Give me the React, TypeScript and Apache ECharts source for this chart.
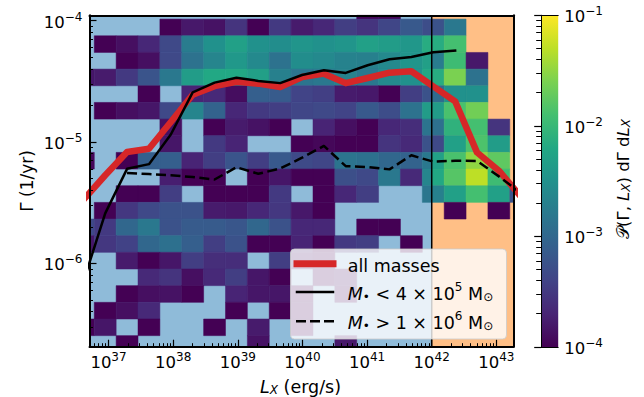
import React, { useEffect, useRef } from "react";
import * as echarts from "echarts";

const FONT = "DejaVu Sans";
const N = null;

// axis ranges in log10 units
const X_RANGE = [36.706, 43.265];
const Y_RANGE = [-6.687, -3.957];
const CB_RANGE = [-4, -1];

const xMajorTicks = [37, 38, 39, 40, 41, 42, 43];
const yMajorTicks = [-6, -5, -4];
const cbMajorTicks = [-4, -3, -2, -1];

// log10 L_X bin edges (an extra edge at 1e42)
const lxBinEdges = [36.4417, 36.78, 37.1183, 37.4566, 37.7949, 38.1332, 38.4715, 38.8098, 39.1481, 39.4864,
  39.8247, 40.163, 40.5013, 40.8396, 41.1779, 41.5162, 41.8545, 42.0, 42.1928, 42.5311, 42.8694, 43.2077, 43.546];
// log10 Gamma bin edges, top to bottom
const gammaBinEdges = [-3.8513, -3.9885, -4.1257, -4.263, -4.4002, -4.5374, -4.6747, -4.8119, -4.9491, -5.0864,
  -5.2236, -5.3608, -5.4981, -5.6353, -5.7725, -5.9097, -6.047, -6.1842, -6.3214, -6.4587, -6.5959, -6.7331];

// log10 P(Gamma, L_X) per cell (rows top -> bottom, columns left -> right), null = empty
const heatLog10: (number | null)[][] = [
  [N, N, N, N, N, N, N, N, N, N, N, N, N, -3.95, -3.95, N, N, N, N, N, N, N],
  [N, N, N, N, -4, -3.8, -3.85, -3.55, -4, -3.5, -3.78, -3.67, -3.46, -3.55, -3.38, -3.17, -3.3, -3.25, -2.8, N, N, N],
  [N, -4, -3.88, -3.67, -3.34, -2.75, -2.5, -2.3, -2.5, -2.55, -2.45, -2.5, -2.45, -2.3, -2.35, -2.42, -2.15, -2.15, -1.9, N, N, N],
  [N, N, -4, -3.88, -3.34, -2.87, -2.65, -2.41, -2.6, -2.87, -2.55, -2.6, -2.68, -2.7, -2.6, -2.45, -2.32, -2.75, -1.95, -3.8, N, N],
  [-3.82, -3.78, -3.5, -3.22, -2.8, -2.35, -2.2, -2.2, -2.32, -2.7, -2.85, -2.8, -2.68, -2.8, -2.6, -2.5, -2.2, -2.15, -1.6, -2.87, N, N],
  [N, N, N, -4, N, -3.7, -3.65, -3.9, -3.1, -3.15, -3.4, -3.45, -3.78, -3.8, -4, -3.46, -3.25, -2.95, -2.5, -2.5, N, N],
  [N, -4, -3.88, -3.82, -3.34, -2.65, -3.05, -3.67, -3.5, -3.46, -3.38, -3.34, -3.4, -3.17, -3.3, -2.87, -2.35, -2.35, -1.87, -1.65, N, N],
  [N, N, N, N, -3.88, N, -4, -3.78, -3.85, -4, N, -3.7, -3.88, -4, -3.67, -3.62, -2.85, -2.9, -2.08, -1.9, -3.55, N],
  [N, N, N, N, -3.82, N, -3.5, -3.7, N, N, -4, -3.95, -4, -4, -3.55, -3.65, -3.25, -3.34, -2.3, -1.85, -2.35, N],
  [-3.95, N, -4, -3.1, -3.1, -3.7, -3.46, -3.22, -3.46, -3.17, -3.33, -3.38, -2.85, -2.89, -3.0, -3.05, -2.8, -2.3, -1.87, -1.5, -1.75, N],
  [N, N, N, N, -3.75, -4, -4, N, -4, -3.82, -4, -4, -3.28, -3.34, -2.8, -3.65, -2.65, -2.2, -1.8, -1.3, -1.95, N],
  [N, N, -4, -4, -3.46, N, -4, -4, -4, -3.5, N, -4, -3.67, -3.46, N, N, -2.82, -2.7, -2.3, -1.9, -2.3, -3.25],
  [N, -4, -3.52, -3.34, -3.25, -3.25, -3.78, -3.8, -3.67, -3.52, -3.8, -4, N, N, N, N, N, N, -4, N, -4, N],
  [-3.35, -3.5, -3.0, -2.8, -3.25, -3.15, -3.15, -3.2, -3.0, -3.25, -3.67, -3.67, N, -4, -4, N, N, N, N, N, N, N],
  [-3.82, -3.52, -3.42, -3.0, -2.89, -3.1, -3.46, -3.25, -4, -4, -3.7, -4, -3.5, -3.46, N, -4, N, N, N, N, N, N],
  [N, N, -3.78, -4, -3.82, -3.46, -3.61, -3.62, N, -3.46, -3.8, -3.9, N, N, N, N, N, N, N, N, N, N],
  [N, N, N, -3.65, -3.55, -3.88, -3.65, -3.46, -3.82, -4, N, -3.9, -3.8, N, N, N, N, N, N, N, N, N],
  [N, N, -4, -3.88, -3.85, -4, N, -3.7, -3.82, -3.82, -3.9, N, -3.85, N, N, N, N, N, N, N, N, N],
  [N, -4, -3.88, -3.65, N, N, N, -4, N, -4, -3.9, N, N, N, N, N, N, N, N, N, N, N],
  [-4, -3.82, N, -4, N, N, -4, N, -3.78, N, -3.9, N, N, N, N, N, N, N, N, N, N, N],
  [N, N, -4, N, N, N, N, N, -3.85, N, N, N, -3.8, N, N, N, N, N, N, N, N, N],
];

// log10 L_X bin centres used by the curves
const lxCentres = [36.611, 36.949, 37.287, 37.626, 37.964, 38.302, 38.641, 38.979, 39.317, 39.656, 39.994,
  40.332, 40.67, 41.009, 41.347, 41.685, 42.024, 42.362, 42.7, 43.039, 43.377];
// Gamma (1/yr)
const gammaAllMasses = [3.33e-6, 5.31e-6, 8.26e-6, 8.79e-6, 1.46e-5, 2.45e-5, 2.88e-5, 3.13e-5, 3.02e-5, 2.83e-5,
  3.42e-5, 3.65e-5, 3.05e-5, 3.36e-5, 3.72e-5, 3.82e-5, 2.87e-5, 2.16e-5, 8.2e-6, 5.79e-6, 3.56e-6];
const lxLowMass = lxCentres.slice(0, 18);
const gammaLowMass = [7.06e-7, 2.58e-6, 6.0e-6, 6.56e-6, 1.15e-5, 2.56e-5, 3.08e-5, 3.38e-5, 3.18e-5, 3.05e-5,
  3.56e-5, 3.89e-5, 3.7e-5, 4.28e-5, 4.79e-5, 5.01e-5, 5.47e-5, 5.64e-5];
const lxHighMass = lxCentres.slice(2);
const gammaHighMass = [5.55e-6, 5.43e-6, 5.31e-6, 5.14e-6, 4.9e-6, 6.19e-6, 5.46e-6, 6.04e-6, 7.41e-6, 9.27e-6,
  6.31e-6, 6.21e-6, 5.94e-6, 7.76e-6, 6.87e-6, 7.0e-6, 6.97e-6, 5.2e-6, 3.8e-6];
const lxSplit = 42;

const VIRIDIS = ["#440154", "#482475", "#414487", "#355f8d", "#2a788e", "#21918c", "#22a884", "#44bf70", "#7ad151", "#bddf26", "#fde725"];

function hexToRgb(h: string) {
  return [parseInt(h.slice(1, 3), 16), parseInt(h.slice(3, 5), 16), parseInt(h.slice(5, 7), 16)];
}
function viridis(t: number) {
  const tt = Math.max(0, Math.min(1, t)) * (VIRIDIS.length - 1);
  const i = Math.min(VIRIDIS.length - 2, Math.floor(tt));
  const f = tt - i;
  const a = hexToRgb(VIRIDIS[i]);
  const b = hexToRgb(VIRIDIS[i + 1]);
  const c = a.map((v, k) => Math.round(v + (b[k] - v) * f));
  return `rgb(${c[0]},${c[1]},${c[2]})`;
}
function minorTicks(lo: number, hi: number, decades: number[]) {
  const out: number[] = [];
  decades.forEach((d) => {
    for (let k = 2; k <= 9; k++) {
      const v = d + Math.log10(k);
      if (v > lo + 1e-6 && v < hi - 1e-6) out.push(v);
    }
  });
  return out;
}

const richTick = {
  b: { fontSize: 16.5, lineHeight: 20, verticalAlign: "bottom", fontFamily: FONT, color: "#000" },
  s: { fontSize: 12, lineHeight: 12, verticalAlign: "top", fontFamily: FONT, color: "#000" },
};
const fmtPow = (v: number) => {
  const e = Math.round(v);
  return `{b|10}{s|${e < 0 ? "\u2212" + -e : e}}`;
};

export default function App() {
  const ref = useRef<HTMLDivElement>(null);
  useEffect(() => {
    if (!ref.current) return;
    const chart = echarts.init(ref.current, undefined, { renderer: "svg" });

    const cells: number[][] = [];
    heatLog10.forEach((row, r) =>
      row.forEach((v, c) => {
        if (v === null) return;
        const x0 = Math.max(lxBinEdges[c], X_RANGE[0]);
        const x1 = Math.min(lxBinEdges[c + 1], X_RANGE[1]);
        const yt = Math.min(gammaBinEdges[r], Y_RANGE[1]);
        const yb = Math.max(gammaBinEdges[r + 1], Y_RANGE[0]);
        if (x1 <= x0 || yt <= yb) return;
        cells.push([x0, x1, yt, yb, v]);
      })
    );
    const spans = [
      [X_RANGE[0], lxSplit, Y_RANGE[1], Y_RANGE[0], 0],
      [lxSplit, X_RANGE[1], Y_RANGE[1], Y_RANGE[0], 1],
    ];
    const spanColors = ["#8fbbd9", "#ffbf86"];

    const rectItem = (api: any, fill: string, stroke?: boolean) => {
      const p0 = api.coord([api.value(0), api.value(2)]);
      const p1 = api.coord([api.value(1), api.value(3)]);
      return {
        type: "rect",
        shape: { x: p0[0], y: p0[1], width: p1[0] - p0[0], height: p1[1] - p0[1] },
        style: stroke ? { fill, stroke: fill, lineWidth: 0.5 } : { fill },
      };
    };

    const xMinor = minorTicks(X_RANGE[0], X_RANGE[1], [36, 37, 38, 39, 40, 41, 42, 43]);
    const yMinor = minorTicks(Y_RANGE[0], Y_RANGE[1], [-7, -6, -5, -4]);
    const cbMinor = minorTicks(CB_RANGE[0], CB_RANGE[1], [-4, -3, -2]);

    const lineOnly = { show: true, lineStyle: { color: "#000", width: 2 } };
    const hidden = { show: false };

    const cbStops = VIRIDIS.map((c, i) => ({ offset: i / (VIRIDIS.length - 1), color: c }));

    const sub = { fontSize: 12, lineHeight: 12, verticalAlign: "bottom", fontFamily: FONT, fill: "#000", color: "#000" };
    const subI = { ...sub, fontStyle: "italic" };
    const sup = { fontSize: 12, lineHeight: 12, verticalAlign: "top", fontFamily: FONT, fill: "#000", color: "#000" };
    const base = (fs: number, lh: number) => ({ fontSize: fs, lineHeight: lh, verticalAlign: "bottom", fontFamily: FONT, fill: "#000", color: "#000" });
    const ital = (fs: number, lh: number) => ({ ...base(fs, lh), fontStyle: "italic" });

    const option: any = {
      animation: false,
      backgroundColor: "#fff",
      textStyle: { fontFamily: FONT },
      grid: [
        { left: 89.5, top: 15.3, width: 424, height: 331.4 },
        { left: 541.2, top: 15.3, width: 17, height: 331.7 },
      ],
      xAxis: [
        {
          gridIndex: 0, type: "value", min: X_RANGE[0], max: X_RANGE[1], position: "bottom", z: 10,
          axisLine: lineOnly,
          axisTick: { show: true, inside: true, length: 7, customValues: xMajorTicks, lineStyle: { color: "#000", width: 1.2 } },
          axisLabel: { show: true, customValues: xMajorTicks, formatter: fmtPow, rich: richTick, margin: 4 },
          splitLine: hidden,
        },
        {
          gridIndex: 0, type: "value", min: X_RANGE[0], max: X_RANGE[1], position: "bottom", z: 10,
          axisLine: hidden,
          axisTick: { show: true, inside: true, length: 3.5, customValues: xMinor, lineStyle: { color: "#000", width: 1 } },
          axisLabel: hidden, splitLine: hidden,
        },
        {
          gridIndex: 0, type: "value", min: X_RANGE[0], max: X_RANGE[1], position: "top", z: 10,
          axisLine: lineOnly, axisTick: hidden, axisLabel: hidden, splitLine: hidden,
        },
        {
          gridIndex: 1, type: "value", min: 0, max: 1, position: "bottom", z: 10,
          axisLine: { show: true, lineStyle: { color: "#000", width: 1 } }, axisTick: hidden, axisLabel: hidden, splitLine: hidden,
        },
        {
          gridIndex: 1, type: "value", min: 0, max: 1, position: "top", z: 10,
          axisLine: { show: true, lineStyle: { color: "#000", width: 1 } }, axisTick: hidden, axisLabel: hidden, splitLine: hidden,
        },
      ],
      yAxis: [
        {
          gridIndex: 0, type: "value", min: Y_RANGE[0], max: Y_RANGE[1], position: "left", z: 10,
          axisLine: lineOnly,
          axisTick: { show: true, inside: true, length: 7, customValues: yMajorTicks, lineStyle: { color: "#000", width: 1.2 } },
          axisLabel: { show: true, customValues: yMajorTicks, formatter: fmtPow, rich: richTick, margin: 7 },
          splitLine: hidden,
        },
        {
          gridIndex: 0, type: "value", min: Y_RANGE[0], max: Y_RANGE[1], position: "left", z: 10,
          axisLine: hidden,
          axisTick: { show: true, inside: true, length: 3.5, customValues: yMinor, lineStyle: { color: "#000", width: 1 } },
          axisLabel: hidden, splitLine: hidden,
        },
        {
          gridIndex: 0, type: "value", min: Y_RANGE[0], max: Y_RANGE[1], position: "right", z: 10,
          axisLine: lineOnly, axisTick: hidden, axisLabel: hidden, splitLine: hidden,
        },
        {
          gridIndex: 1, type: "value", min: CB_RANGE[0], max: CB_RANGE[1], position: "right", z: 10,
          axisLine: { show: true, lineStyle: { color: "#000", width: 1 } },
          axisTick: { show: true, inside: true, length: 7, customValues: cbMajorTicks, lineStyle: { color: "#000", width: 1.2 } },
          axisLabel: { show: true, customValues: cbMajorTicks, formatter: fmtPow, rich: richTick, margin: 6 },
          splitLine: hidden,
        },
        {
          gridIndex: 1, type: "value", min: CB_RANGE[0], max: CB_RANGE[1], position: "right", z: 10,
          axisLine: hidden,
          axisTick: { show: true, inside: true, length: 5, customValues: cbMinor, lineStyle: { color: "#000", width: 1 } },
          axisLabel: hidden, splitLine: hidden,
        },
        {
          gridIndex: 1, type: "value", min: CB_RANGE[0], max: CB_RANGE[1], position: "left", z: 10,
          axisLine: { show: true, lineStyle: { color: "#000", width: 1 } }, axisTick: hidden, axisLabel: hidden, splitLine: hidden,
        },
      ],
      series: [
        {
          type: "custom", xAxisIndex: 0, yAxisIndex: 0, z: 1, silent: true,
          encode: { x: [0, 1], y: [2, 3] },
          data: spans,
          renderItem: (_p: any, api: any) => rectItem(api, spanColors[api.value(4)]),
        },
        {
          type: "custom", xAxisIndex: 0, yAxisIndex: 0, z: 1, silent: true,
          encode: { x: [0, 1], y: [2, 3] },
          data: cells,
          renderItem: (_p: any, api: any) =>
            rectItem(api, viridis((api.value(4) - CB_RANGE[0]) / (CB_RANGE[1] - CB_RANGE[0])), true),
        },
        {
          type: "line", xAxisIndex: 0, yAxisIndex: 0, z: 3, silent: true, symbol: "none",
          data: lxCentres.map((x, i) => [x, Math.log10(gammaAllMasses[i])]),
          lineStyle: { color: "#d62728", width: 6.5, join: "round", cap: "square" },
        },
        {
          type: "line", xAxisIndex: 0, yAxisIndex: 0, z: 4, silent: true, symbol: "none",
          data: lxLowMass.map((x, i) => [x, Math.log10(gammaLowMass[i])]),
          lineStyle: { color: "#000", width: 2.5, join: "round", cap: "square" },
        },
        {
          type: "line", xAxisIndex: 0, yAxisIndex: 0, z: 4, silent: true, symbol: "none",
          data: lxHighMass.map((x, i) => [x, Math.log10(gammaHighMass[i])]),
          lineStyle: { color: "#000", width: 2.5, type: [10, 4.5], join: "round" },
        },
        {
          type: "line", xAxisIndex: 0, yAxisIndex: 0, z: 4, silent: true, symbol: "none",
          data: [[lxSplit, Y_RANGE[0]], [lxSplit, Y_RANGE[1]]],
          lineStyle: { color: "#000", width: 1.5 },
        },
        {
          type: "custom", xAxisIndex: 3, yAxisIndex: 3, z: 1, silent: true,
          encode: { x: [0, 1], y: [2, 3] },
          data: [[0, 1, CB_RANGE[1], CB_RANGE[0]]],
          renderItem: (_p: any, api: any) => {
            const p0 = api.coord([api.value(0), api.value(2)]);
            const p1 = api.coord([api.value(1), api.value(3)]);
            return {
              type: "rect",
              shape: { x: p0[0], y: p0[1], width: p1[0] - p0[0], height: p1[1] - p0[1] },
              style: { fill: new echarts.graphic.LinearGradient(0, 1, 0, 0, cbStops) },
            };
          },
        },
      ],
      graphic: [
        {
          type: "text", x: 300.5, y: 385, z: 50, silent: true,
          style: {
            text: "{i|L}{sb|X}{t| (erg/s)}", align: "center", verticalAlign: "middle",
            rich: { i: ital(17.5, 22), sb: subI, t: base(17.5, 22) },
          },
        },
        {
          type: "text", x: 24, y: 181, rotation: Math.PI / 2, z: 50, silent: true,
          style: {
            text: "{t|\u0393 (1/yr)}", align: "center", verticalAlign: "middle",
            rich: { t: base(17, 22) },
          },
        },
        {
          type: "text", x: 620.5, y: 179, rotation: Math.PI / 2, z: 50, silent: true,
          style: {
            text: "{c|\uD835\uDCAB}{t|(\u0393, }{i|L}{sb|X}{t|) d\u0393 d}{i|L}{sb|X}", align: "center", verticalAlign: "middle",
            rich: { c: base(16.5, 22), t: base(16.5, 22), i: ital(16.5, 22), sb: subI },
          },
        },
        {
          type: "rect", z: 100, silent: true, shape: { x: 290.5, y: 249, width: 216, height: 90, r: 4 },
          style: { fill: "rgba(255,255,255,0.8)", stroke: "rgba(204,204,204,0.8)", lineWidth: 1 },
        },
        { type: "line", z: 101, silent: true, shape: { x1: 297, y1: 263.7, x2: 333, y2: 263.7 }, style: { stroke: "#d62728", lineWidth: 7, lineCap: "square" } },
        { type: "line", z: 101, silent: true, shape: { x1: 297, y1: 292, x2: 333, y2: 292 }, style: { stroke: "#000", lineWidth: 2.5, lineCap: "square" } },
        { type: "line", z: 101, silent: true, shape: { x1: 296, y1: 321.3, x2: 334, y2: 321.3 }, style: { stroke: "#000", lineWidth: 2.5, lineDash: [10, 4] } },
        {
          type: "text", z: 101, silent: true, x: 347.7, y: 263.7,
          style: { text: "{t|all masses}", verticalAlign: "middle", rich: { t: base(17.5, 22) } },
        },
        {
          type: "text", z: 101, silent: true, x: 347.7, y: 292,
          style: {
            text: "{i|M}{sb|\u2022}{t| < 4 \u00d7 10}{sp|5}{t| M}{sb|\u2299}", verticalAlign: "middle",
            rich: { i: ital(17.5, 22), t: base(17.5, 22), sb: sub, sp: sup },
          },
        },
        {
          type: "text", z: 101, silent: true, x: 347.7, y: 321.3,
          style: {
            text: "{i|M}{sb|\u2022}{t| > 1 \u00d7 10}{sp|6}{t| M}{sb|\u2299}", verticalAlign: "middle",
            rich: { i: ital(17.5, 22), t: base(17.5, 22), sb: sub, sp: sup },
          },
        },
      ],
    };
    chart.setOption(option);
    return () => chart.dispose();
  }, []);
  return <div ref={ref} style={{ position: "absolute", left: 0, top: 0, width: 644, height: 397 }} />;
}
